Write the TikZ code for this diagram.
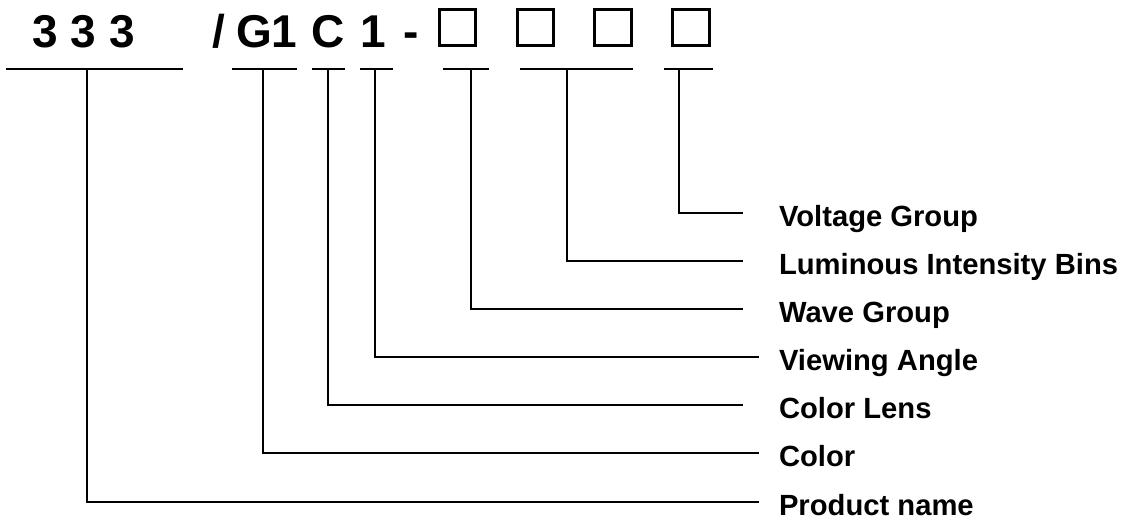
\documentclass[tikz,border=0pt]{standalone}
\usepackage{fontspec}
\setmainfont{Liberation Sans}
\tikzset{
	partno/.style={anchor=base west, inner sep=0pt, font=\bfseries\fontsize{23}{23}\selectfont},
	slot/.style={line width=1.5pt},
	field/.style={anchor=base west, inner sep=0pt, font=\bfseries\fontsize{14.6}{16}\selectfont}
}
\begin{document}
\begin{tikzpicture}[x=0.5pt, y=-0.5pt, line width=1pt]
		\useasboundingbox (0,0) rectangle (1122,520);

		% part number
		\node[partno] (num) at (31.5,47.5) {3 3 3};
		\node[partno] (sl) at (211,47.5) {/};
		\node[partno] (col) at (235,47.5) {G1};
		\node[partno] (lens) at (310,47.5) {C};
		\node[partno] (ang) at (359,47.5) {1};
		\node[partno] (hy) at (402,47.5) {-};
		\draw[slot] (439.5,9.5) rectangle (475.5,45.5);
		\draw[slot] (517,9.5) rectangle (553.5,45.5);
		\draw[slot] (594,9.5) rectangle (631,45.5);
		\draw[slot] (672,9.5) rectangle (709,45.5);

		% underlines
		\draw (6,69) -- (183,69);
		\draw (232,69) -- (297,69);
		\draw (312,69) -- (345,69);
		\draw (360,69) -- (393,69);
		\draw (443,69) -- (489,69);
		\draw (520,69) -- (633,69);
		\draw (664,69) -- (713,69);
		\coordinate (t1) at (87,69);
		\coordinate (t2) at (263,69);
		\coordinate (t3) at (328,69);
		\coordinate (t4) at (375,69);
		\coordinate (t5) at (471,69);
		\coordinate (t6) at (567,69);
		\coordinate (t7) at (679,69);

		% line ends
		\coordinate (e1) at (759,502);
		\coordinate (e2) at (759,453);
		\coordinate (e3) at (743,405);
		\coordinate (e4) at (759,357);
		\coordinate (e5) at (743,309);
		\coordinate (e6) at (743,261);
		\coordinate (e7) at (743,213);

		\draw (t1) |- (e1);
		\draw (t2) |- (e2);
		\draw (t3) |- (e3);
		\draw (t4) |- (e4);
		\draw (t5) |- (e5);
		\draw (t6) |- (e6);
		\draw (t7) |- (e7);

		\node[field] (l1) at (778,515.5) {Product name};
		\node[field] (l2) at (778,466.5) {Color};
		\node[field] (l3) at (778,418.5) {Color Lens};
		\node[field] (l4) at (778,370.5) {Viewing Angle};
		\node[field] (l5) at (778,322.5) {Wave Group};
		\node[field] (l6) at (778,274.5) {Luminous Intensity Bins};
		\node[field] (l7) at (778,226.5) {Voltage Group};
	\end{tikzpicture}
\end{document}
